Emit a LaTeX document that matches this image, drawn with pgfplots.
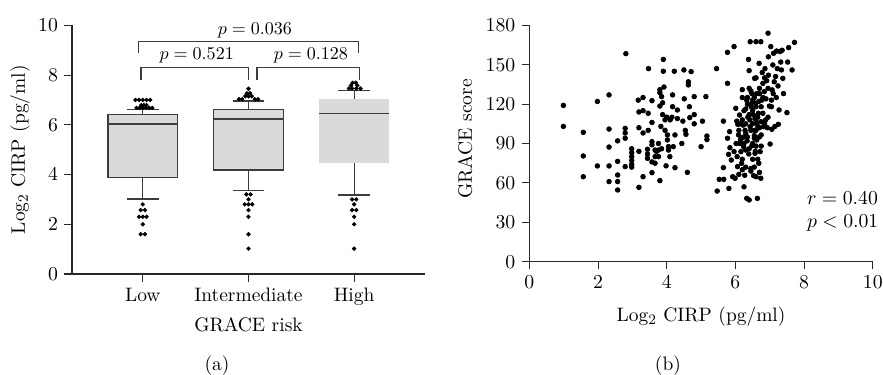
\documentclass[border=0pt]{standalone}
\usepackage{pgfplots}
\pgfplotsset{compat=1.18}
\usepgfplotslibrary{statistics}
\definecolor{axcol}{RGB}{40,40,40}
\definecolor{boxfill}{RGB}{217,218,218}
\definecolor{boxdraw}{RGB}{60,60,60}
\pgfplotsset{
  myaxis/.style={
    scale only axis,
    axis x line*=bottom, axis y line*=left,
    axis line style={axcol, line width=0.6pt},
    tick style={axcol, line width=0.6pt},
    tick align=outside,
    major tick length=4.3pt,
    clip=false,
    every tick label/.append style={font=\fontsize{10.8}{13}\selectfont},
    label style={font=\fontsize{10.8}{13}\selectfont},
  }
}
\begin{document}
\begin{tikzpicture}[font=\fontsize{10.8}{13}\selectfont]
\path[use as bounding box] (0,0) rectangle (490.07pt,-208.1pt);
% ---------------- (a) boxplot ----------------
\begin{axis}[myaxis,
  at={(39.96pt,-152.07pt)}, anchor=south west,
  width=195.9pt, height=138.0pt,
  xmin=0.33, xmax=3.67, ymin=0, ymax=10,
  xtick={1,2,3}, xticklabels={Low,Intermediate,High},
  ytick={0,2,4,6,8,10},
  xlabel={GRACE risk},
  ylabel={Log$_2$ CIRP (pg/ml)},
  x label style={at={(axis description cs:0.5,-0.205)},anchor=center},
  y label style={at={(axis description cs:-0.147,0.5)},anchor=center},
  boxplot/draw direction=y,
]
\addplot[boxdraw, fill=boxfill, line width=0.7pt,
  boxplot prepared={lower whisker=3.02, lower quartile=3.87, median=6.03,
    upper quartile=6.42, upper whisker=6.62, draw position=1,
    box extend=0.66, whisker extend=0.3}] coordinates {};
\addplot[boxdraw, fill=boxfill, line width=0.7pt,
  boxplot prepared={lower whisker=3.35, lower quartile=4.18, median=6.23,
    upper quartile=6.63, upper whisker=6.96, draw position=2,
    box extend=0.66, whisker extend=0.3}] coordinates {};
\addplot[boxdraw, fill=boxfill, line width=0.7pt,
  boxplot/every box/.style={draw=none, fill=boxfill},
  boxplot prepared={lower whisker=3.18, lower quartile=4.46, median=6.46,
    upper quartile=7.04, upper whisker=7.37, draw position=3,
    box extend=0.66, whisker extend=0.3}] coordinates {};
% outliers
\addplot[only marks, mark=*, mark size=1.0pt, black] coordinates {
 (0.93,7.0) (0.965,7.0) (1.0,7.0) (1.035,7.0) (1.07,7.0)
 (0.985,6.79) (1.01,6.79) (1.035,6.79)
 (0.94,6.68) (0.97,6.68) (1.0,6.68) (1.03,6.68) (1.06,6.68) (1.09,6.68)
 (1.0,2.8) (0.98,2.57) (1.02,2.57) (0.965,2.3) (1.0,2.3) (1.035,2.3)
 (1.0,2.0) (0.98,1.6) (1.02,1.6)
 (2.0,7.45) (1.985,7.27) (2.015,7.27) (1.97,7.15) (2.0,7.15) (2.03,7.15)
 (1.91,7.03) (1.94,7.03) (2.06,7.03) (2.09,7.03)
 (1.98,3.2) (2.02,3.2) (2.0,3.0) (1.965,2.8) (2.0,2.8) (2.035,2.8)
 (2.0,2.57) (2.0,2.3) (2.0,1.6) (2.0,1.02)
 (2.985,7.69) (3.015,7.69) (2.97,7.58) (3.03,7.58)
 (2.95,7.46) (2.98,7.46) (3.02,7.46) (3.06,7.46)
 (2.98,3.0) (3.02,3.0) (3.0,2.8) (2.98,2.57) (3.02,2.57)
 (3.0,2.3) (3.0,2.0) (3.0,1.02)
};
% brackets
\draw[boxdraw, line width=0.7pt] (axis cs:0.984,7.8) -- (axis cs:0.984,8.3) -- (axis cs:2.0,8.3) -- (axis cs:2.0,7.8);
\draw[boxdraw, line width=0.7pt] (axis cs:2.08,7.8) -- (axis cs:2.08,8.3) -- (axis cs:3.05,8.3) -- (axis cs:3.05,7.8);
\draw[boxdraw, line width=0.7pt] (axis cs:0.96,8.87) -- (axis cs:0.96,9.34) -- (axis cs:3.04,9.34) -- (axis cs:3.04,8.87);
\node[font=\fontsize{10}{12}\selectfont] at (axis cs:1.51,8.8) {$p = 0.521$};
\node[font=\fontsize{10}{12}\selectfont] at (axis cs:2.59,8.8) {$p = 0.128$};
\node[font=\fontsize{10}{12}\selectfont] at (axis cs:2.06,9.8) {$p = 0.036$};
\end{axis}
% ---------------- (b) scatter ----------------
\begin{axis}[myaxis,
  at={(293.8pt,-145.24pt)}, anchor=south west,
  width=190.6pt, height=131.2pt,
  xmin=0, xmax=10, ymin=0, ymax=180,
  xtick={0,2,4,6,8,10}, ytick={0,30,60,90,120,150,180},
  xlabel={Log$_2$ CIRP (pg/ml)},
  ylabel={GRACE score},
  x label style={at={(axis description cs:0.5,-0.234)},anchor=center},
  y label style={at={(axis description cs:-0.187,0.519)},anchor=center},
]
\addplot[only marks, mark=*, mark size=1.3pt, black] table {
x y
0.99 119
0.99 103
1.57 98.5
1.57 80.5
1.57 64.7
1.98 122
1.98 72.9
2.32 127
2.32 101
2.32 87.3
2.32 72.9
2.32 61
2.57 92
2.57 76.4
2.57 66
2.57 61
2.57 54.6
2.81 158.4
2.79 101.5
2.79 98
2.79 94
2.79 72.4
2.98 86
2.98 83
2.98 80
2.98 77
2.98 74
2.98 72
3.17 123
3.19 114
3.19 102
3.19 84
3.19 56.6
3.31 125
3.31 115
3.31 98
3.31 64.7
3.44 85.6
3.44 82
3.44 78.7
3.46 113
3.46 100
3.47 147
3.57 122.6
3.57 106
3.57 91.4
3.57 89
3.57 76
3.57 67.8
3.66 85
3.66 80
3.66 75
3.76 90
3.76 85
3.76 80
3.8 131
3.8 128.7
3.8 118.5
3.8 61.7
3.83 103
3.85 125.7
3.88 121
3.9 154
3.9 145
3.88 112
3.92 133
3.95 108
3.98 73
4.02 96.5
4.02 92.7
4.05 87.6
4.09 80
4.15 110
4.17 118
4.17 127
4.19 87.6
4.22 145
4.24 96.5
4.24 71.6
4.31 115.5
4.31 109
4.44 90
4.47 107
4.5 146
4.51 124
4.54 100
4.56 97
4.6 68
4.63 137
4.63 134.6
4.66 118
4.67 109.7
4.71 144.7
4.8 125.7
4.8 112
4.8 105
5.0 87.6
5.04 107
5.14 125.7
5.17 95.7
5.17 93
4.0 110
3.95 100
4.1 108
3.7 84
3.85 86
4.05 85
5.45 147
5.47 53.8
5.53 62.7
5.65 107
5.65 71.6
5.66 62.7
5.77 159.4
5.77 135.8
5.77 94
5.8 81.7
5.81 55.8
5.83 99
5.84 86.8
5.88 77.4
5.92 64.7
5.96 163.8
5.96 83.8
5.99 63.5
6.01 116.8
6.02 90
6.04 107
6.06 72.4
6.07 104.6
6.09 96.5
6.1 66.5
6.12 111.7
6.13 90
6.16 83.8
6.18 74.9
6.2 131
6.2 125
6.22 104
6.22 94.7
6.24 87.6
6.25 57
6.27 65.8
6.3 116.3
6.3 97.7
6.33 123
6.33 48.2
6.34 92
6.36 110
6.38 154
6.39 82
6.4 47
6.4 145.5
6.4 132
6.43 102.8
6.43 167.5
6.45 71
6.46 118
6.48 88.3
6.48 128
6.5 123
6.5 78
6.53 65.5
6.55 94
6.56 100
6.56 139.6
6.57 109
6.57 82.5
6.59 120.6
6.6 167.5
6.6 64.7
6.62 128
6.62 92.7
6.64 48.2
6.65 103
6.67 113
6.68 74.9
6.69 151
6.7 132
6.72 83.8
6.74 63.5
6.74 167.5
6.75 96.5
6.75 106.6
6.77 123
6.78 144
6.8 135.8
6.8 113
6.82 102.8
6.84 129.5
6.86 147
6.88 108
6.89 124
6.91 137.8
6.93 102
6.95 174
6.96 156
6.96 142
6.99 118.5
7.01 89.6
7.03 163.8
7.05 123
7.06 100.8
7.07 130.8
7.09 149.8
7.11 158.7
7.13 137
7.15 103
7.17 141
7.19 125
7.2 160.4
7.22 147
7.24 133.8
7.25 104.6
7.27 115.5
7.3 160
7.32 152
7.34 146
7.36 161
7.38 139.6
7.4 128
7.5 113.5
7.52 152
7.55 163
7.65 146
7.72 167
6.1 100
6.2 108
6.25 115
6.3 105
6.35 95
6.4 112
6.45 120
6.5 115
6.55 125
6.6 118
6.65 110
6.7 102
6.75 118
6.8 125
6.45 100
6.5 105
6.55 96
6.6 88
6.25 90
6.3 85
6.2 78
6.4 86
6.5 90
6.6 100
6.7 95
6.15 105
6.35 125
6.45 130
6.6 140
6.7 128
6.85 140
6.95 132
7.1 128
6.95 110
7.05 118
6.85 105
6.75 88
6.55 72
6.45 69
6.3 72
6.2 70
6.65 78
6.7 68
6.58 84
6.35 120
6.42 108
6.52 112
6.62 106
6.68 122
6.05 80
6.15 93
6.28 100
};
\node[anchor=west] at (axis cs:7.9,48.5) {$r = 0.40$};
\node[anchor=west] at (axis cs:7.9,29.5) {$p < 0.01$};
\end{axis}
\node at (120.4pt,-203.1pt) {(a)};
\node at (370.7pt,-203.1pt) {(b)};
\end{tikzpicture}
\end{document}
